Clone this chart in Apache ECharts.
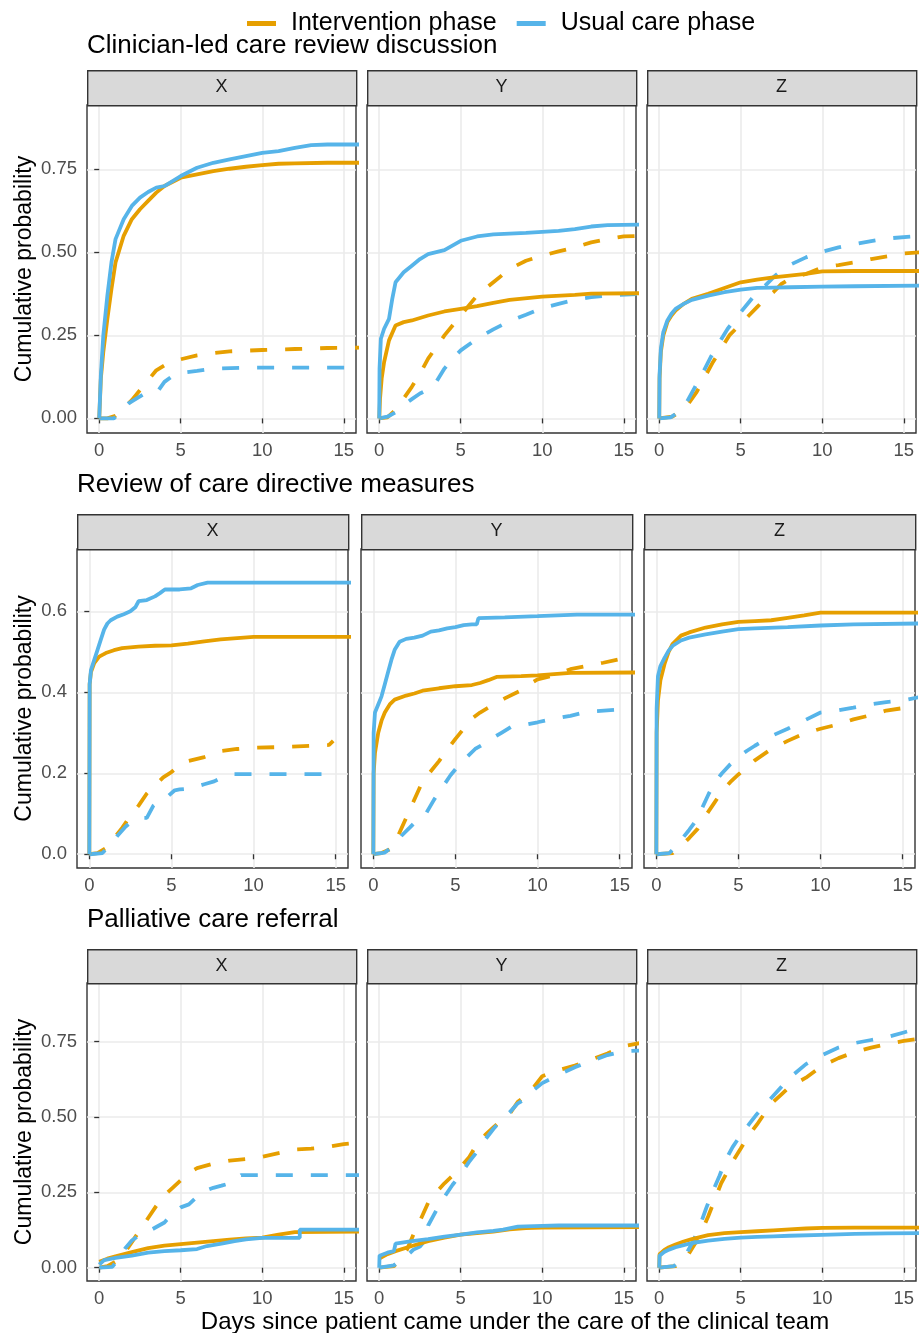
<!DOCTYPE html>
<html><head><meta charset="utf-8">
<script src="https://cdn.jsdelivr.net/npm/echarts@6/dist/echarts.min.js"></script>
<style>html,body{margin:0;padding:0;background:#fff}#c{width:919px;height:1333px}</style>
</head><body><div id="c"></div>
<script>
// ---------- labels ----------
const outcomes = ['Clinician-led care review discussion', 'Review of care directive measures', 'Palliative care referral'];
const sites = ['X', 'Y', 'Z'];
const phases = ['Intervention phase', 'Usual care phase'];
const xTicks = [0, 5, 10, 15];
const yTicksA = [0, 0.25, 0.5, 0.75];
const yTicksB = [0, 0.2, 0.4, 0.6];
const xTitle = 'Days since patient came under the care of the clinical team';
const yTitle = 'Cumulative probability';

// ---------- Clinician-led care review discussion ----------
const ccr_X_intS_t = [0,0.1,0.25,0.5,0.75,1,1.5,2,2.5,3,3.5,4,5,6,7,8,9,10,11,12,14,16];
const ccr_X_intS_p = [0,0.12,0.2,0.3,0.39,0.47,0.55,0.6,0.63,0.655,0.68,0.70,0.725,0.735,0.745,0.752,0.758,0.763,0.767,0.768,0.77,0.77];
const ccr_X_usuS_t = [0,0.1,0.25,0.5,0.75,1,1.5,2,2.5,3,3.5,4,5,6,7,8,9,10,11,12,13,14,16];
const ccr_X_usuS_p = [0,0.13,0.25,0.37,0.47,0.54,0.6,0.64,0.665,0.682,0.695,0.70,0.73,0.755,0.77,0.78,0.79,0.80,0.805,0.815,0.823,0.825,0.825];
const ccr_X_intD_t = [0,0.5,1,1.5,2,2.5,3,3.5,4,5,6,7,8,10,12,14,16];
const ccr_X_intD_p = [0,0,0.008,0.03,0.055,0.085,0.115,0.145,0.16,0.178,0.19,0.197,0.202,0.206,0.209,0.212,0.213];
const ccr_X_usuD_t = [0,0.9,1.3,1.8,2.3,2.8,3.0,3.6,4.0,4.5,5,6,7,9,16];
const ccr_X_usuD_p = [0,0,0.02,0.045,0.06,0.075,0.08,0.082,0.11,0.128,0.137,0.143,0.15,0.153,0.153];

const ccr_Y_intS_t = [0,0.05,0.15,0.3,0.6,1,1.5,2,3,4,5,6,7,8,10,12,13,16];
const ccr_Y_intS_p = [0,0.06,0.12,0.17,0.235,0.28,0.29,0.295,0.31,0.322,0.33,0.338,0.348,0.357,0.367,0.372,0.376,0.377];
const ccr_Y_usuS_t = [0,0.02,0.1,0.3,0.6,0.8,1,1.5,2,2.5,3,4,5,6,7,9,11,12,13,14,16];
const ccr_Y_usuS_p = [0,0.15,0.24,0.27,0.30,0.36,0.41,0.44,0.46,0.48,0.495,0.507,0.535,0.548,0.554,0.559,0.565,0.57,0.578,0.582,0.584];
const ccr_Y_intD_t = [0,0.5,1,1.5,2,2.5,3,3.5,4,5,6,7,8,9,10,11,12,13,14,15,16];
const ccr_Y_intD_p = [0,0.003,0.025,0.06,0.095,0.135,0.18,0.215,0.25,0.31,0.37,0.41,0.45,0.475,0.49,0.503,0.515,0.53,0.54,0.548,0.55];
const ccr_Y_usuD_t = [0,0.5,1,1.5,2,2.5,3,3.5,4,4.5,5,6,7,8,9,10,11,12,13,14,16];
const ccr_Y_usuD_p = [0,0.005,0.018,0.04,0.058,0.075,0.087,0.11,0.15,0.18,0.205,0.24,0.268,0.293,0.312,0.332,0.345,0.357,0.365,0.37,0.375];

const ccr_Z_intS_t = [0,0.02,0.1,0.25,0.5,0.75,1,1.5,2,3,4,5,6,7,8,9,10,12,16];
const ccr_Z_intS_p = [0,0.12,0.2,0.25,0.29,0.31,0.325,0.345,0.36,0.375,0.393,0.41,0.418,0.425,0.43,0.435,0.443,0.444,0.444];
const ccr_Z_usuS_t = [0,0.02,0.1,0.25,0.5,0.75,1,1.5,2,3,4,5,6,7,8,10,12,16];
const ccr_Z_usuS_p = [0,0.13,0.21,0.26,0.295,0.315,0.33,0.345,0.357,0.37,0.38,0.388,0.393,0.394,0.395,0.397,0.398,0.40];
const ccr_Z_intD_t = [0,0.8,1.3,1.8,2.3,2.8,3.3,3.8,4.3,5,5.5,6,6.5,7,7.5,8,9,10,11,12,13,14,15,16];
const ccr_Z_intD_p = [0,0.005,0.02,0.045,0.08,0.125,0.17,0.21,0.25,0.285,0.31,0.335,0.36,0.38,0.405,0.42,0.435,0.455,0.462,0.47,0.48,0.488,0.497,0.50];
const ccr_Z_usuD_t = [0,0.7,1.2,1.7,2.2,2.7,3.2,3.7,4.2,5,5.5,6,6.5,7,7.5,8,9,10,11,12,13,14,16];
const ccr_Z_usuD_p = [0,0.003,0.02,0.05,0.095,0.14,0.188,0.23,0.27,0.32,0.35,0.38,0.4,0.425,0.445,0.462,0.485,0.502,0.515,0.525,0.534,0.542,0.55];

// ---------- Review of care directive measures ----------
const acd_X_intS_t = [0,0.02,0.1,0.3,0.6,1,1.5,2,3,4,5,6,7,8,9,10,16];
const acd_X_intS_p = [0,0.42,0.45,0.472,0.488,0.497,0.504,0.509,0.513,0.515,0.516,0.52,0.526,0.531,0.534,0.537,0.537];
const acd_X_usuS_t = [0,0.02,0.1,0.3,0.5,0.7,0.9,1.1,1.3,1.7,2.1,2.5,2.8,3,3.5,4,4.3,4.6,5.5,6.2,6.6,7.2,16];
const acd_X_usuS_p = [0,0.42,0.455,0.48,0.505,0.53,0.555,0.57,0.578,0.587,0.593,0.6,0.61,0.625,0.628,0.637,0.645,0.654,0.654,0.657,0.665,0.671,0.671];
const acd_X_intD_t = [0,0.5,1,1.5,2,2.5,3,3.5,4,4.5,5,5.5,6,7,8,9,10,12,14.6,14.85];
const acd_X_intD_p = [0,0.003,0.015,0.04,0.065,0.095,0.12,0.15,0.17,0.19,0.203,0.22,0.23,0.24,0.255,0.26,0.263,0.265,0.27,0.28];
const acd_X_usuD_t = [0,0.8,1.2,1.7,2.2,2.7,3.0,3.5,3.9,4.2,4.7,5.2,5.5,6.0,6.6,7.0,7.6,8.1,8.8,14.7];
const acd_X_usuD_p = [0,0.003,0.02,0.045,0.068,0.085,0.09,0.09,0.12,0.13,0.14,0.158,0.16,0.162,0.168,0.173,0.18,0.19,0.198,0.198];

const acd_Y_intS_t = [0,0.02,0.1,0.3,0.5,0.7,1,1.3,2,2.5,3,4,5,6,6.5,7,7.5,9,10,11,12,16];
const acd_Y_intS_p = [0,0.2,0.25,0.3,0.33,0.35,0.37,0.382,0.392,0.397,0.404,0.41,0.415,0.418,0.423,0.43,0.438,0.44,0.442,0.445,0.448,0.449];
const acd_Y_usuS_t = [0,0.02,0.1,0.3,0.5,0.7,0.9,1.1,1.3,1.6,2,2.5,3,3.5,4,4.5,5,5.5,6,6.3,6.4,8,10,12.4,16];
const acd_Y_usuS_p = [0,0.3,0.35,0.37,0.39,0.42,0.45,0.48,0.505,0.525,0.532,0.535,0.54,0.55,0.553,0.558,0.561,0.566,0.568,0.568,0.583,0.585,0.588,0.592,0.592];
const acd_Y_intD_t = [0,0.5,1,1.5,2,2.5,3,3.5,4,4.5,5,5.5,6,6.5,7,8,9,9.5,10,11,12,13,14,15,16];
const acd_Y_intD_p = [0,0.003,0.012,0.045,0.09,0.135,0.18,0.205,0.23,0.258,0.285,0.31,0.335,0.35,0.362,0.385,0.405,0.42,0.432,0.442,0.457,0.465,0.473,0.482,0.49];
const acd_Y_usuD_t = [0,0.7,1.2,1.7,2.2,2.7,3.2,3.7,4.2,4.7,5.2,5.7,6.2,6.7,7.2,7.8,8.4,9,10,11,12,13,15.2];
const acd_Y_usuD_p = [0,0.004,0.02,0.045,0.065,0.086,0.1,0.135,0.165,0.195,0.22,0.24,0.26,0.272,0.285,0.3,0.315,0.318,0.326,0.335,0.342,0.352,0.358];

const acd_Z_intS_t = [0,0.02,0.1,0.25,0.5,0.75,1,1.5,2,3,4,5,6,7,8,9,10,16];
const acd_Z_intS_p = [0,0.3,0.38,0.43,0.47,0.5,0.52,0.54,0.548,0.56,0.568,0.574,0.576,0.578,0.584,0.59,0.597,0.597];
const acd_Z_usuS_t = [0,0.02,0.1,0.25,0.5,0.75,1,1.5,2,3,4,5,6,8,10,12,16];
const acd_Z_usuS_p = [0,0.36,0.44,0.465,0.485,0.503,0.515,0.528,0.535,0.543,0.55,0.556,0.558,0.561,0.565,0.568,0.57];
const acd_Z_intD_t = [0,1,1.5,2,2.5,3,3.5,4,4.5,5,5.5,6,7,8,9,10,11,12,13,14,15.2];
const acd_Z_intD_p = [0,0.003,0.02,0.04,0.062,0.095,0.125,0.155,0.178,0.197,0.215,0.232,0.26,0.28,0.298,0.31,0.32,0.333,0.343,0.355,0.362];
const acd_Z_usuD_t = [0,0.8,1.2,1.6,2,2.4,2.8,3.2,3.6,4,4.5,5,5.5,6,7,8,9,10,11,12,13,14,15,16];
const acd_Z_usuD_p = [0,0.003,0.02,0.04,0.06,0.082,0.115,0.15,0.18,0.2,0.222,0.24,0.255,0.268,0.292,0.31,0.33,0.35,0.355,0.362,0.37,0.376,0.38,0.388];

// ---------- Palliative care referral ----------
const pcr_X_intS_t = [0,0.5,1,2,3,4,5,6,7,8,9,10,11,12,16];
const pcr_X_intS_p = [0.02,0.03,0.038,0.052,0.065,0.073,0.078,0.083,0.088,0.093,0.097,0.1,0.11,0.118,0.12];
const pcr_X_usuS_t = [0,0.3,1,2,3,4,5,6,6.6,7.5,8.3,9,10,12.3,12.3,16];
const pcr_X_usuS_p = [0.01,0.025,0.033,0.04,0.05,0.055,0.058,0.062,0.072,0.08,0.088,0.094,0.099,0.099,0.126,0.126];
const pcr_X_intD_t = [0,0.5,1,1.5,2,2.5,3,3.5,4,4.5,5,5.5,6,7,8,9,10,11,12,13,14,15,16];
const pcr_X_intD_p = [0,0.005,0.02,0.045,0.085,0.125,0.165,0.205,0.24,0.265,0.29,0.315,0.33,0.345,0.355,0.36,0.368,0.38,0.392,0.395,0.4,0.41,0.415];
const pcr_X_usuD_t = [0,0.8,1.2,1.6,2,2.5,3,3.5,4,4.5,5,5.5,6,6.5,7,7.5,8,8.7,16];
const pcr_X_usuD_p = [0,0.003,0.03,0.065,0.09,0.11,0.12,0.135,0.15,0.18,0.2,0.21,0.235,0.255,0.265,0.272,0.28,0.307,0.307];

const pcr_Y_intS_t = [0,0.5,1,2,3,4,5,6,7,8,9,10,16];
const pcr_Y_intS_p = [0.03,0.045,0.055,0.072,0.088,0.1,0.11,0.115,0.12,0.127,0.131,0.133,0.135];
const pcr_Y_usuS_t = [0,0.02,0.5,0.9,1.0,2,3,4,5,6,7,7.6,8.5,10,11,16];
const pcr_Y_usuS_p = [0,0.04,0.05,0.055,0.08,0.088,0.095,0.103,0.11,0.117,0.122,0.126,0.136,0.139,0.14,0.14];
const pcr_Y_intD_t = [0,0.9,1.3,1.7,2.1,2.5,3,3.5,4,4.5,5,5.5,6,6.5,7,7.5,8,8.5,9,9.5,10,11,12,13,14,15,16];
const pcr_Y_intD_p = [0,0.005,0.03,0.06,0.11,0.155,0.215,0.25,0.28,0.305,0.335,0.365,0.41,0.44,0.465,0.49,0.51,0.55,0.57,0.6,0.635,0.655,0.67,0.69,0.71,0.735,0.745];
const pcr_Y_usuD_t = [0,0.9,1.3,1.7,2.1,2.5,2.8,3,3.5,4,4.5,5,5.5,6,6.5,7,7.5,8,8.5,9,9.5,10,11,12,13,14,15,16];
const pcr_Y_usuD_p = [0,0.008,0.025,0.04,0.06,0.07,0.09,0.14,0.19,0.235,0.275,0.31,0.35,0.385,0.425,0.46,0.49,0.515,0.545,0.56,0.59,0.612,0.64,0.665,0.685,0.705,0.718,0.72];

const pcr_Z_intS_t = [0,0.02,0.3,0.6,1,1.5,2,3,4,5,6,7,8,9,10,12,16];
const pcr_Z_intS_p = [0,0.045,0.058,0.068,0.077,0.087,0.095,0.108,0.115,0.118,0.121,0.124,0.127,0.13,0.132,0.133,0.133];
const pcr_Z_usuS_t = [0,0.02,0.3,0.6,1,1.5,2,3,4,5,6,7,8,10,12,14,16];
const pcr_Z_usuS_p = [0,0.04,0.052,0.06,0.068,0.075,0.082,0.09,0.096,0.1,0.102,0.104,0.106,0.109,0.112,0.114,0.115];
const pcr_Z_intD_t = [0,1,1.4,1.8,2.2,2.6,3,3.4,3.8,4.2,4.6,5,5.5,6,6.5,7,7.5,8,9,10,11,12,13,14,15,16];
const pcr_Z_intD_p = [0,0.005,0.02,0.045,0.08,0.12,0.17,0.225,0.28,0.32,0.36,0.395,0.44,0.475,0.515,0.55,0.575,0.6,0.63,0.67,0.695,0.715,0.73,0.742,0.752,0.76];
const pcr_Z_usuD_t = [0,0.9,1.3,1.7,2.1,2.5,2.9,3.3,3.7,4.1,4.5,5,5.5,6,6.5,7,7.5,8,9,10,11,12,13,14,15,16];
const pcr_Z_usuD_p = [0,0.005,0.025,0.05,0.09,0.14,0.2,0.255,0.305,0.36,0.4,0.44,0.475,0.51,0.54,0.57,0.6,0.63,0.675,0.705,0.73,0.745,0.755,0.765,0.78,0.795];

// table: [row, col, phase, dashed, t, p]
const curveTable = [
  [0,0,0,1,ccr_X_intD_t,ccr_X_intD_p],[0,0,1,1,ccr_X_usuD_t,ccr_X_usuD_p],[0,0,0,0,ccr_X_intS_t,ccr_X_intS_p],[0,0,1,0,ccr_X_usuS_t,ccr_X_usuS_p],
  [0,1,0,1,ccr_Y_intD_t,ccr_Y_intD_p],[0,1,1,1,ccr_Y_usuD_t,ccr_Y_usuD_p],[0,1,0,0,ccr_Y_intS_t,ccr_Y_intS_p],[0,1,1,0,ccr_Y_usuS_t,ccr_Y_usuS_p],
  [0,2,0,1,ccr_Z_intD_t,ccr_Z_intD_p],[0,2,1,1,ccr_Z_usuD_t,ccr_Z_usuD_p],[0,2,0,0,ccr_Z_intS_t,ccr_Z_intS_p],[0,2,1,0,ccr_Z_usuS_t,ccr_Z_usuS_p],
  [1,0,0,1,acd_X_intD_t,acd_X_intD_p],[1,0,1,1,acd_X_usuD_t,acd_X_usuD_p],[1,0,0,0,acd_X_intS_t,acd_X_intS_p],[1,0,1,0,acd_X_usuS_t,acd_X_usuS_p],
  [1,1,0,1,acd_Y_intD_t,acd_Y_intD_p],[1,1,1,1,acd_Y_usuD_t,acd_Y_usuD_p],[1,1,0,0,acd_Y_intS_t,acd_Y_intS_p],[1,1,1,0,acd_Y_usuS_t,acd_Y_usuS_p],
  [1,2,0,1,acd_Z_intD_t,acd_Z_intD_p],[1,2,1,1,acd_Z_usuD_t,acd_Z_usuD_p],[1,2,0,0,acd_Z_intS_t,acd_Z_intS_p],[1,2,1,0,acd_Z_usuS_t,acd_Z_usuS_p],
  [2,0,0,1,pcr_X_intD_t,pcr_X_intD_p],[2,0,1,1,pcr_X_usuD_t,pcr_X_usuD_p],[2,0,0,0,pcr_X_intS_t,pcr_X_intS_p],[2,0,1,0,pcr_X_usuS_t,pcr_X_usuS_p],
  [2,1,0,1,pcr_Y_intD_t,pcr_Y_intD_p],[2,1,1,1,pcr_Y_usuD_t,pcr_Y_usuD_p],[2,1,0,0,pcr_Y_intS_t,pcr_Y_intS_p],[2,1,1,0,pcr_Y_usuS_t,pcr_Y_usuS_p],
  [2,2,0,1,pcr_Z_intD_t,pcr_Z_intD_p],[2,2,1,1,pcr_Z_usuD_t,pcr_Z_usuD_p],[2,2,0,0,pcr_Z_intS_t,pcr_Z_intS_p],[2,2,1,0,pcr_Z_usuS_t,pcr_Z_usuS_p]
];

// ---------- layout / style ----------
const FONT = '"Liberation Sans", Arial, Helvetica, sans-serif';
const phaseColors = ['#E69F00', '#56B4E9'];
const rowsLayout = [
  {top:105, height:328, lefts:[87,367,647], width:269, ymin:-0.044, ymax:0.944, ticks:yTicksA, dec:2, stripTop:70, titleTop:33, titleLeft:87, nameGap:51},
  {top:549, height:319, lefts:[77,361,644], width:271, ymin:-0.034, ymax:0.754, ticks:yTicksB, dec:1, stripTop:514, titleTop:472, titleLeft:77, nameGap:41},
  {top:983, height:298, lefts:[87,367,647], width:269, ymin:-0.044, ymax:0.944, ticks:yTicksA, dec:2, stripTop:949, titleTop:907, titleLeft:87, nameGap:51}
];

const grids = [], xAxes = [], yAxes = [], graphics = [], titles = [];
rowsLayout.forEach((R, r) => {
  titles.push({text: outcomes[r], left: R.titleLeft, top: R.titleTop, padding: 0,
    textStyle: {fontFamily: FONT, fontSize: 26, fontWeight: 'normal', color: '#000'}});
  R.lefts.forEach((L, c) => {
    grids.push({left: L, top: R.top, width: R.width, height: R.height, show: true,
      backgroundColor: '#fff', borderColor: '#333333', borderWidth: 1.4, containLabel: false});
    xAxes.push({type: 'value', gridIndex: r*3+c, min: -0.75, max: 15.75,
      axisLine: {show: false},
      axisTick: {show: true, length: 5, lineStyle: {color: '#333333', width: 1.3}, customValues: xTicks},
      axisLabel: {customValues: xTicks, color: '#4D4D4D', fontSize: 18.5, fontFamily: FONT, margin: 8},
      splitLine: {show: true, lineStyle: {color: '#EBEBEB', width: 1.6}}});
    const first = c === 0;
    yAxes.push({type: 'value', gridIndex: r*3+c, min: R.ymin, max: R.ymax,
      name: first ? yTitle : '', nameLocation: 'middle', nameRotate: 90, nameGap: R.nameGap,
      nameTextStyle: {fontFamily: FONT, fontSize: 23, color: '#000'},
      axisLine: {show: false},
      axisTick: {show: first, length: 5, lineStyle: {color: '#333333', width: 1.3}, customValues: R.ticks},
      axisLabel: {show: first, customValues: R.ticks, color: '#4D4D4D', fontSize: 18.5, fontFamily: FONT, margin: 10,
        formatter: v => Number(v).toFixed(R.dec)},
      splitLine: {show: true, lineStyle: {color: '#EBEBEB', width: 1.6}}});
    // facet strip
    graphics.push({type: 'rect', left: L, top: R.stripTop, z: 10,
      shape: {width: R.width, height: R.top - R.stripTop},
      style: {fill: '#D9D9D9', stroke: '#333333', lineWidth: 1.4}});
    graphics.push({type: 'text', z: 11, x: L + R.width/2, y: R.stripTop + (R.top - R.stripTop)/2,
      style: {text: sites[c], fill: '#1A1A1A', font: '18px ' + FONT, textAlign: 'center', textVerticalAlign: 'middle'}});
  });
});
graphics.push({type: 'text', x: 515, y: 1322, z: 11,
  style: {text: xTitle, fill: '#000', font: '24px ' + FONT, textAlign: 'center', textVerticalAlign: 'middle'}});

const series = curveTable.map(([r, c, ph, dashed, t, p]) => ({
  type: 'line', name: phases[ph], xAxisIndex: r*3+c, yAxisIndex: r*3+c,
  data: t.map((x, k) => [x, p[k]]), showSymbol: false, symbol: 'none', clip: true,
  silent: true, z: 2 + ph + (dashed ? 0 : 2),
  itemStyle: {color: phaseColors[ph]},
  lineStyle: {color: phaseColors[ph], width: 3.8, type: dashed ? [17, 18] : 'solid', cap: 'butt'}
}));

const chart = echarts.init(document.getElementById('c'), null, {renderer: 'canvas'});
chart.setOption({
  animation: false,
  backgroundColor: '#fff',
  textStyle: {fontFamily: FONT},
  title: titles,
  legend: {data: phases, left: 247, top: 11, padding: 0, icon: 'rect', itemWidth: 29, itemHeight: 5, itemGap: 20,
    textStyle: {fontFamily: FONT, fontSize: 25, color: '#000', padding: [0, 0, 0, 10]}, selectedMode: false},
  grid: grids, xAxis: xAxes, yAxis: yAxes, series: series, graphic: graphics
});
</script></body></html>
